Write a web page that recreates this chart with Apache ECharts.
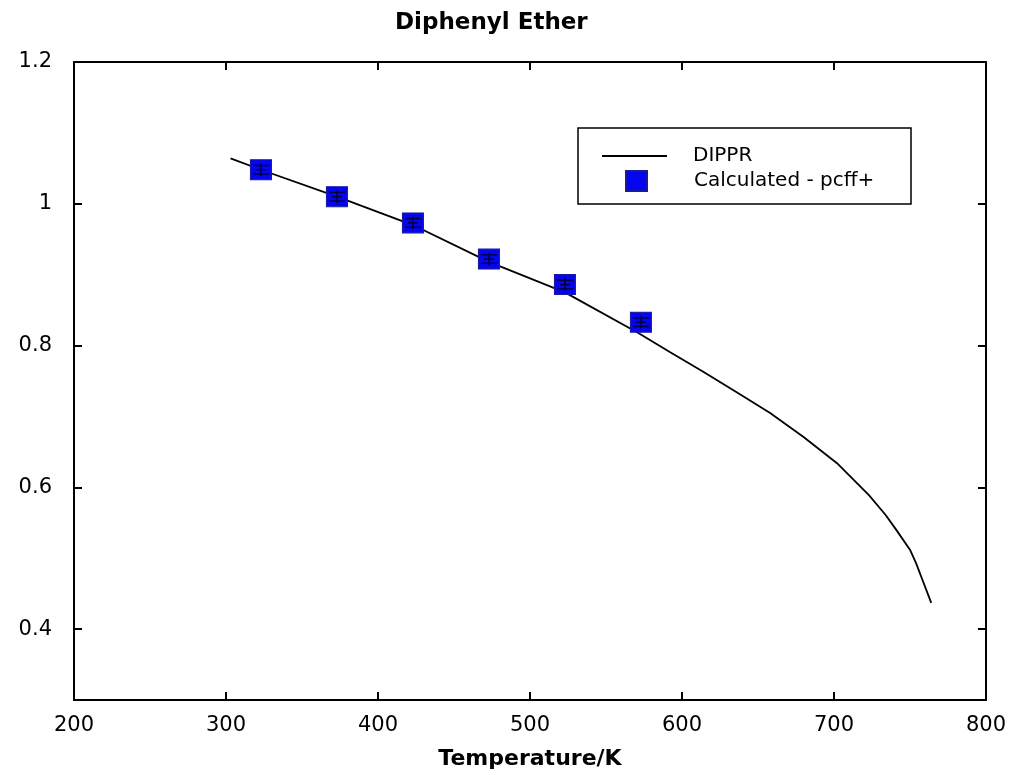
<!DOCTYPE html>
<html>
<head>
<meta charset="utf-8">
<script src="https://cdn.jsdelivr.net/npm/echarts@6/dist/echarts.min.js"></script>
<style>
  html, body { margin: 0; padding: 0; background: #fff; }
  #chart { width: 1009px; height: 775px; }
</style>
</head>
<body>
<div id="chart"></div>
<script>
// DIPPR correlation curve (T in K, density)
const dipprT =   [303, 323, 373, 423, 473, 523, 571, 592, 614, 636, 658, 680, 702, 723, 734, 741, 750, 754, 759, 764];
const dipprRho = [1.064, 1.048, 1.010, 0.970, 0.918, 0.875, 0.818, 0.791, 0.763, 0.734, 0.705, 0.671, 0.634, 0.589, 0.561, 0.540, 0.512, 0.493, 0.465, 0.437];
// Calculated - pcff+ points
const calcT =   [323, 373, 423, 473, 523, 573];
const calcRho = [1.048, 1.010, 0.973, 0.922, 0.886, 0.833];
const calcErr = [0.006, 0.006, 0.006, 0.006, 0.006, 0.006];
// Tick labels
const yTicks = [0.4, 0.6, 0.8, 1.0, 1.2];

const FONT = 'DejaVu Sans';
const dipprData = dipprT.map((t, i) => [t, dipprRho[i]]);
const calcData = calcT.map((t, i) => [t, calcRho[i]]);
const errData = calcT.map((t, i) => [t, calcRho[i], calcErr[i]]);

const axisLine = { show: true, onZero: false, lineStyle: { color: '#000', width: 2 } };
const axisTick = { show: true, inside: true, length: 8, lineStyle: { color: '#000', width: 2 } };

const chart = echarts.init(document.getElementById('chart'));
chart.setOption({
  animation: false,
  backgroundColor: '#fff',
  title: {
    text: 'Diphenyl Ether',
    left: 395, top: 12, padding: 0,
    textStyle: { fontFamily: FONT, fontSize: 23, fontWeight: 'bold', color: '#000' }
  },
  grid: { left: 74, right: 19, top: 62, bottom: 75, containLabel: false },
  legend: [
    {
      data: ['DIPPR'],
      left: 602, top: 146, padding: 0,
      itemWidth: 65, itemHeight: 2,
      icon: 'rect',
      formatter: function (n) { return '{g|}' + n; },
      textStyle: { fontFamily: FONT, fontSize: 20, color: '#000', rich: { g: { width: 21 } } }
    },
    {
      data: ['Calculated - pcff+'],
      left: 625, top: 170, padding: 0,
      itemWidth: 21, itemHeight: 20,
      icon: 'rect',
      formatter: function (n) { return '{g|}' + n; },
      textStyle: { fontFamily: FONT, fontSize: 20, color: '#000', rich: { g: { width: 42 } } }
    }
  ],
  graphic: [
    {
      type: 'rect', z: 0,
      shape: { x: 578, y: 128, width: 333, height: 76 },
      style: { fill: '#fff', stroke: '#000', lineWidth: 1.5 }
    }
  ],
  xAxis: [
    {
      type: 'value', position: 'bottom', min: 200, max: 800, interval: 100,
      axisLine, axisTick,
      splitLine: { show: false },
      axisLabel: { fontFamily: FONT, fontSize: 21, color: '#000', margin: 15 },
      name: 'Temperature/K', nameLocation: 'middle', nameGap: 48,
      nameTextStyle: { fontFamily: FONT, fontSize: 22, fontWeight: 'bold', color: '#000' }
    },
    {
      type: 'value', position: 'top', min: 200, max: 800, interval: 100,
      axisLine, axisTick,
      splitLine: { show: false },
      axisLabel: { show: false }
    }
  ],
  yAxis: [
    {
      type: 'value', position: 'left', min: 0.3, max: 1.2, interval: 0.1,
      axisLine,
      axisTick: Object.assign({}, axisTick, { customValues: yTicks }),
      splitLine: { show: false },
      axisLabel: { fontFamily: FONT, fontSize: 21, color: '#000', margin: 22, customValues: yTicks }
    },
    {
      type: 'value', position: 'right', min: 0.3, max: 1.2, interval: 0.1,
      axisLine,
      axisTick: Object.assign({}, axisTick, { customValues: yTicks }),
      splitLine: { show: false },
      axisLabel: { show: false }
    }
  ],
  series: [
    {
      name: 'DIPPR', type: 'line', data: dipprData,
      xAxisIndex: 0, yAxisIndex: 0,
      showSymbol: false, symbol: 'none', z: 2,
      lineStyle: { color: '#000', width: 1.8 },
      itemStyle: { color: '#000' }
    },
    {
      name: 'Calculated - pcff+', type: 'scatter', data: calcData,
      xAxisIndex: 0, yAxisIndex: 0,
      symbol: 'rect', symbolSize: [21, 20], z: 3,
      itemStyle: { color: '#0505f0', borderColor: '#1a1aa0', borderWidth: 1, opacity: 1 }
    },
    {
      name: 'err', type: 'custom', data: errData,
      xAxisIndex: 0, yAxisIndex: 0, z: 4, silent: true,
      renderItem: function (params, api) {
        const x = api.value(0), y = api.value(1), e = api.value(2);
        const top = api.coord([x, y + e]);
        const bot = api.coord([x, y - e]);
        const mid = api.coord([x, y]);
        const hw = 8;
        const st = { stroke: '#000040', lineWidth: 1.5 };
        return {
          type: 'group',
          children: [
            { type: 'line', shape: { x1: top[0], y1: top[1] - 2, x2: bot[0], y2: bot[1] + 2 }, style: st },
            { type: 'line', shape: { x1: top[0] - hw, y1: top[1], x2: top[0] + hw, y2: top[1] }, style: st },
            { type: 'line', shape: { x1: bot[0] - hw, y1: bot[1], x2: bot[0] + hw, y2: bot[1] }, style: st },
            { type: 'line', shape: { x1: mid[0] - 5, y1: mid[1], x2: mid[0] + 5, y2: mid[1] }, style: st }
          ]
        };
      }
    }
  ]
});
</script>
</body>
</html>
